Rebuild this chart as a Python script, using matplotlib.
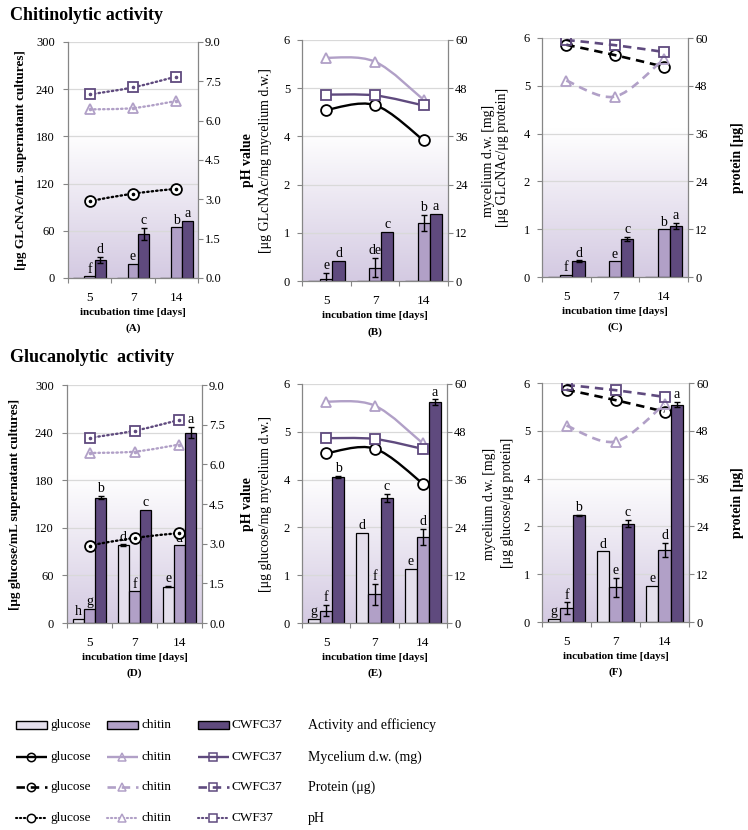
import numpy as np
import matplotlib
matplotlib.use('Agg')
import matplotlib.pyplot as plt
from matplotlib.path import Path
from matplotlib.patches import PathPatch, Rectangle
from matplotlib.colors import LinearSegmentedColormap
from matplotlib.lines import Line2D

plt.rcParams['font.family'] = ['Liberation Serif', 'DejaVu Serif']

days = ['5', '7', '14']

# colours of the three media
c_glc = '#E4DFEC'
c_chi = '#B1A0C7'
c_cw = '#5F4A7E'
line_cols = ['black', c_chi, c_cw]

# (A) chitinolytic activity [ug GlcNAc/mL]
a_glc = [0.6, 0.6, 0.6]
a_chi = [2.0, 18.0, 64.5]
a_cw = [23.0, 56.0, 72.5]
a_chi_err = [0, 0, 0]
a_cw_err = [4, 8, 0]
a_let = [['', '', ''], ['f', 'e', 'b'], ['d', 'c', 'a']]

# (B) chitinolytic efficiency per mycelium (axis positions)
b_glc = [0.01, 0.01, 0.01]
b_chi = [0.05, 0.28, 1.2]
b_cw = [0.42, 1.02, 1.39]
b_chi_err = [0.12, 0.2, 0.17]
b_cw_err = [0, 0, 0]
b_let = [['', '', ''], ['e', 'de', 'b'], ['d', 'c', 'a']]

# (C) chitinolytic efficiency per protein
c_glc_v = [0.01, 0.01, 0.01]
c_chi_v = [0.04, 0.33, 1.0]
c_cw_v = [0.33, 0.80, 1.07]
c_chi_err = [0, 0, 0]
c_cw_err = [0.02, 0.04, 0.07]
c_let = [['', '', ''], ['f', 'e', 'b'], ['d', 'c', 'a']]

# (D) glucanolytic activity [ug glucose/mL]
d_glc = [5, 98, 46]
d_chi = [18, 40, 98]
d_cw = [158, 143, 240]
d_glc_err = [0, 1, 1]
d_chi_err = [0, 0, 0]
d_cw_err = [2, 0, 7]
d_let = [['h', 'd', 'e'], ['g', 'f', 'd'], ['b', 'c', 'a']]

# (E) glucanolytic efficiency per mycelium
e_glc = [0.09, 1.88, 1.13]
e_chi = [0.26, 0.6, 1.8]
e_cw = [3.06, 2.62, 4.62]
e_glc_err = [0, 0, 0]
e_chi_err = [0.12, 0.22, 0.17]
e_cw_err = [0.02, 0.08, 0.06]
e_let = [['g', 'd', 'e'], ['f', 'f', 'd'], ['b', 'c', 'a']]

# (F) glucanolytic efficiency per protein
f_glc = [0.06, 1.48, 0.75]
f_chi = [0.29, 0.73, 1.5]
f_cw = [2.23, 2.06, 4.55]
f_glc_err = [0, 0, 0]
f_chi_err = [0.12, 0.2, 0.15]
f_cw_err = [0.01, 0.07, 0.05]
f_let = [['g', 'd', 'e'], ['f', 'e', 'd'], ['b', 'c', 'a']]

# secondary series
ph_glc = [2.93, 3.22, 3.40]
ph_chi = [6.43, 6.48, 6.75]
ph_cw = [7.00, 7.27, 7.68]
myc_glc = [42.6, 43.8, 35.0]
myc_chi = [55.6, 54.6, 45.1]
myc_cw = [46.4, 46.2, 43.7]
prot_glc = [58.3, 55.7, 52.8]
prot_chi = [49.3, 45.3, 54.7]
prot_cw = [59.5, 58.2, 56.5]

markers = ['o', '^', 's']
grey = '#868686'
bg = LinearSegmentedColormap.from_list('bg', [(0, '#D4CAE2'), (0.62, '#FFFFFF'), (1, '#FFFFFF')])


def smooth_path(xs, ys):
    pts = np.column_stack([xs, ys]).astype(float)
    n = len(pts)
    verts = [pts[0]]
    codes = [Path.MOVETO]
    for i in range(n - 1):
        p0 = pts[max(i - 1, 0)]
        p1 = pts[i]
        p2 = pts[i + 1]
        p3 = pts[min(i + 2, n - 1)]
        verts += [p1 + (p2 - p0) / 6, p2 - (p3 - p1) / 6, p2]
        codes += [Path.CURVE4] * 3
    return Path(verts, codes)


def panel(rect, bars, errs, letters, left, right, lines, style, ylab, rlab,
          lab_bold, rlab_bold, lx, rx, tag, lpad):
    ax = fig.add_axes(rect)
    ax.imshow(np.linspace(0, 1, 256).reshape(-1, 1), cmap=bg, origin='lower',
              extent=[0, 1, 0, 1], transform=ax.transAxes, aspect='auto', zorder=0)
    x = np.arange(3)
    offs = [-0.25, 0, 0.25]
    cols = [c_glc, c_chi, c_cw]
    for k in range(3):
        ax.bar(x + offs[k], bars[k], width=0.25, color=cols[k], edgecolor='black',
               linewidth=0.9, zorder=2)
        err = np.array(errs[k])
        m = err > 0
        if m.any():
            ax.errorbar((x + offs[k])[m], np.array(bars[k])[m], yerr=err[m], fmt='none',
                        ecolor='black', elinewidth=1.0, capsize=2.5, capthick=1.0, zorder=3)
        for i in range(3):
            if letters[k][i]:
                ax.annotate(letters[k][i], (x[i] + offs[k], bars[k][i] + err[i]),
                            xytext=(0, 0.5), textcoords='offset points', ha='center',
                            va='bottom', fontsize=10, zorder=4)
    ax.set_xlim(-0.5, 2.5)
    ax.set_ylim(left[0], left[1])
    ax.set_yticks(left[2])
    ax.set_yticklabels(left[3])
    ax.set_axisbelow(True)
    ax.yaxis.grid(True, color='#D9D9D9', linewidth=0.9)
    ax.set_xticks([-0.5, 0.5, 1.5, 2.5])
    ax.set_xticklabels([])
    ax.set_xticks([0, 1, 2], minor=True)
    ax.set_xticklabels(days, minor=True)
    ax.tick_params(axis='x', which='major', length=3.6, color=grey, width=0.8)
    ax.tick_params(axis='x', which='minor', length=0, pad=10, labelsize=9.5)
    ax.tick_params(axis='y', length=3.6, color=grey, width=0.8, labelsize=9, pad=lpad)
    for s in ['top', 'right']:
        ax.spines[s].set_visible(False)
    for s in ['left', 'bottom']:
        ax.spines[s].set_color(grey)
        ax.spines[s].set_linewidth(0.9)
    ax.set_ylabel(ylab, fontsize=10 if not lab_bold else 9.5,
                  fontweight='bold' if lab_bold else 'normal', va='center')
    ax.yaxis.set_label_coords(lx, 0.5)
    ax.set_xlabel('incubation time [days]', fontsize=8, fontweight='bold', va='center')
    ax.xaxis.set_label_coords(0.5, -0.145)
    ax.text(0.5, -0.212, tag, transform=ax.transAxes, ha='center', va='center',
            fontsize=8, fontweight='bold')

    ax2 = ax.twinx()
    ax2.set_ylim(right[0], right[1])
    ax2.set_yticks(right[2])
    ax2.set_yticklabels(right[3])
    ax2.tick_params(axis='y', length=3.6, color=grey, width=0.8, labelsize=9, pad=1.5)
    for s in ['top', 'left', 'bottom']:
        ax2.spines[s].set_visible(False)
    ax2.spines['right'].set_color(grey)
    ax2.spines['right'].set_linewidth(0.9)
    ax2.set_ylabel(rlab, fontsize=10, fontweight='bold' if rlab_bold else 'normal',
                   va='center', rotation=90)
    ax2.yaxis.set_label_coords(rx, 0.5)
    for k in range(3):
        col = line_cols[k]
        if style == 'solid':
            pp = PathPatch(smooth_path(x, lines[k]), fill=False, edgecolor=col,
                           linewidth=1.7, zorder=3)
            face = 'white'
        elif style == 'dashed':
            pp = PathPatch(smooth_path(x, lines[k]), fill=False, edgecolor=col,
                           linewidth=1.9, linestyle=(0, (3.2, 2.2)), zorder=3)
            face = 'none'
        else:
            pp = PathPatch(smooth_path(x, lines[k]), fill=False, edgecolor=col,
                           linewidth=1.7, linestyle=(0, (0.6, 1.3)), capstyle='round',
                           zorder=3)
            face = 'white'
        ax2.add_patch(pp)
        ax2.plot(x, lines[k], linestyle='none', marker=markers[k], markersize=7.8,
                 markerfacecolor=face, markeredgecolor=col, markeredgewidth=1.3, zorder=4)
        if style == 'dotted':
            ax2.plot(x, lines[k], linestyle='none', marker='o', markersize=1.6,
                     color=col, zorder=5)
    return ax


fig = plt.figure(figsize=(7.48, 8.30), dpi=100)
W, H = 748.0, 830.0


def rect(x0, y0, x1, y1):
    return [x0 / W, 1 - y1 / H, (x1 - x0) / W, (y1 - y0) / H]


act_ax = (0, 300, [0, 60, 120, 180, 240, 300], ['0', '60', '120', '180', '240', '300'])
ph_ax = (0, 9, [0, 1.5, 3, 4.5, 6, 7.5, 9], ['0.0', '1.5', '3.0', '4.5', '6.0', '7.5', '9.0'])
eff_ax = (0, 5, [0, 1, 2, 3, 4, 5], ['0', '1', '2', '4', '5', '6'])
mg_ax = (0, 60, [0, 12, 24, 36, 48, 60], ['0', '12', '24', '36', '48', '60'])

ph_lines = [ph_glc, ph_chi, ph_cw]
myc_lines = [myc_glc, myc_chi, myc_cw]
prot_lines = [prot_glc, prot_chi, prot_cw]

panel(rect(68, 42, 198, 278), [a_glc, a_chi, a_cw], [[0, 0, 0], a_chi_err, a_cw_err], a_let,
      act_ax, ph_ax, ph_lines, 'dotted', '[μg GLcNAc/mL supernatant cultures]', 'pH value',
      True, True, -0.36, 1.38, '(A)', 6)
panel(rect(302, 40, 448, 281), [b_glc, b_chi, b_cw], [[0, 0, 0], b_chi_err, b_cw_err], b_let,
      eff_ax, mg_ax, myc_lines, 'solid', '[μg GLcNAc/mg mycelium d.w.]', 'mycelium d.w. [mg]',
      False, False, -0.25, 1.28, '(B)', 5)
panel(rect(542, 38, 688, 277), [c_glc_v, c_chi_v, c_cw_v], [[0, 0, 0], c_chi_err, c_cw_err], c_let,
      eff_ax, mg_ax, prot_lines, 'dashed', '[μg GLcNAc/μg protein]', 'protein [μg]',
      False, True, -0.27, 1.34, '(C)', 5)
panel(rect(67, 385, 202, 623), [d_glc, d_chi, d_cw], [d_glc_err, d_chi_err, d_cw_err], d_let,
      act_ax, ph_ax, ph_lines, 'dotted', '[μg glucose/mL supernatant cultures]', 'pH value',
      True, True, -0.385, 1.335, '(D)', 6)
panel(rect(302, 384, 447, 623), [e_glc, e_chi, e_cw], [e_glc_err, e_chi_err, e_cw_err], e_let,
      eff_ax, mg_ax, myc_lines, 'solid', '[μg glucose/mg mycelium d.w.]', 'mycelium d.w. [mg]',
      False, False, -0.255, 1.29, '(E)', 5)
panel(rect(542, 383, 689, 622), [f_glc, f_chi, f_cw], [f_glc_err, f_chi_err, f_cw_err], f_let,
      eff_ax, mg_ax, prot_lines, 'dashed', '[μg glucose/μg protein]', 'protein [μg]',
      False, True, -0.235, 1.33, '(F)', 5)

fig.text(10 / W, 1 - 15 / H, 'Chitinolytic activity', fontsize=13, fontweight='bold', va='center')
fig.text(10 / W, 1 - 357 / H, 'Glucanolytic  activity', fontsize=13, fontweight='bold', va='center')

# legend drawn in pixel space
lax = fig.add_axes([0, 0, 1, 140 / H])
lax.set_xlim(0, W)
lax.set_ylim(H, H - 140)
lax.axis('off')
rows_y = [725, 757, 787, 818]
hx = [(16, 47), (107, 138), (198, 229)]
tx = [50, 142, 232]
names = [['glucose', 'chitin', 'CWFC37'], ['glucose', 'chitin', 'CWFC37'],
         ['glucose', 'chitin', 'CWFC37'], ['glucose', 'chitin', 'CWF37']]
desc = ['Activity and efficiency', 'Mycelium d.w. (mg)', 'Protein (μg)', 'pH']
bar_cols = [c_glc, c_chi, c_cw]
for r, y in enumerate(rows_y):
    for k in range(3):
        x0, x1 = hx[k]
        if r == 0:
            lax.add_patch(Rectangle((x0, y - 4), x1 - x0, 8, facecolor=bar_cols[k],
                                    edgecolor='black', linewidth=1.0))
        else:
            col = line_cols[k]
            if r == 1:
                ls, lw = '-', 1.7
            elif r == 2:
                ls, lw = (0, (3.2, 2.2)), 1.9
            else:
                ls, lw = (0, (0.6, 1.3)), 1.5
            lax.add_line(Line2D([x0, x1], [y, y], color=col, linestyle=ls, linewidth=lw,
                                solid_capstyle='butt', dash_capstyle='round' if r == 3 else 'butt'))
            lax.add_line(Line2D([(x0 + x1) / 2], [y], marker=markers[k], markersize=6,
                                markerfacecolor='white' if r == 3 else 'none',
                                markeredgecolor=col, markeredgewidth=1.1))
        lax.text(tx[k], y, names[r][k], fontsize=9.5, va='center', ha='left')
    lax.text(308, y, desc[r], fontsize=10, va='center', ha='left')

fig.savefig('out.png', dpi=100)
